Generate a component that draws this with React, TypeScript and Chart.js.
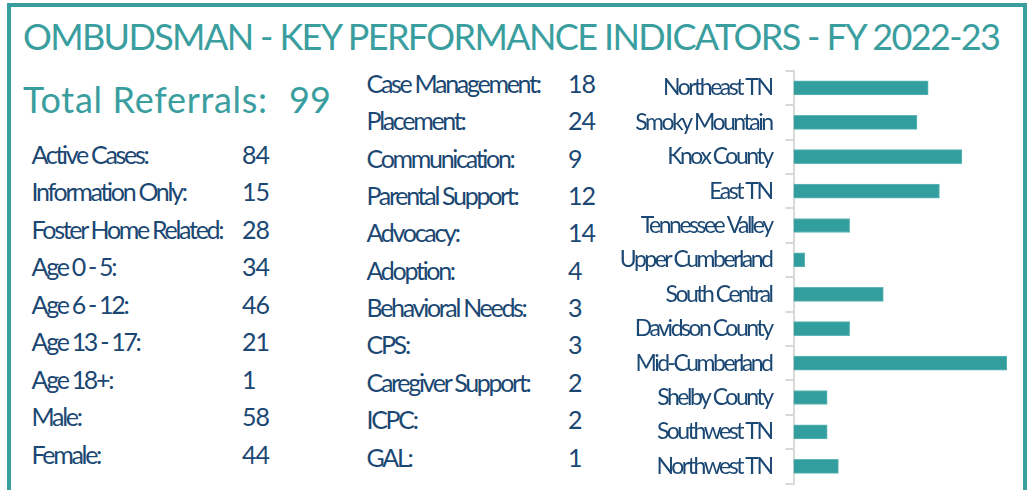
import React, { useEffect, useRef } from "react";
import { Chart, registerables } from "chart.js";

Chart.register(...registerables);

const titleText = "OMBUDSMAN - KEY PERFORMANCE INDICATORS - FY 2022-23";
const totalLabel = "Total Referrals:";
const totalValue = 99;

const summaryLabels = [
  "Active Cases:",
  "Information Only:",
  "Foster Home Related:",
  "Age 0 - 5:",
  "Age 6 - 12:",
  "Age 13 - 17:",
  "Age 18+:",
  "Male:",
  "Female:",
];
const summaryValues = [84, 15, 28, 34, 46, 21, 1, 58, 44];

const issueLabels = [
  "Case Management:",
  "Placement:",
  "Communication:",
  "Parental Support:",
  "Advocacy:",
  "Adoption:",
  "Behavioral Needs:",
  "CPS:",
  "Caregiver Support:",
  "ICPC:",
  "GAL:",
];
const issueValues = [18, 24, 9, 12, 14, 4, 3, 3, 2, 2, 1];

const regionLabels = [
  "Northeast TN",
  "Smoky Mountain",
  "Knox County",
  "East TN",
  "Tennessee Valley",
  "Upper Cumberland",
  "South Central",
  "Davidson County",
  "Mid-Cumberland",
  "Shelby County",
  "Southwest TN",
  "Northwest TN",
];
const regionValues = [12, 11, 15, 13, 5, 1, 8, 5, 19, 3, 3, 4];

const TEAL = "#3a9e9f";
const BAR = "#339e9e";
const NAVY = "#1b4773";
const FONT = "Lato, 'Open Sans', sans-serif";

function RegionChart() {
  const ref = useRef<HTMLCanvasElement | null>(null);
  useEffect(() => {
    if (!ref.current) return;
    const spacingPlugin = {
      id: "spacing",
      beforeUpdate(chart: any) {
        chart.ctx.letterSpacing = "-2.5px";
      },
      beforeDraw(chart: any) {
        chart.ctx.letterSpacing = "-2.5px";
      },
    };
    const chart = new Chart(ref.current, {
      type: "bar",
      data: {
        labels: regionLabels,
        datasets: [
          {
            data: regionValues,
            backgroundColor: BAR,
            borderColor: "#5fb6b6",
            borderWidth: 1,
            barThickness: 14,
          },
        ],
      },
      options: {
        indexAxis: "y",
        animation: false,
        responsive: false,
        maintainAspectRatio: false,
        layout: { padding: { top: 10.7, bottom: 6.5, left: 0, right: 0 } },
        plugins: { legend: { display: false }, tooltip: { enabled: false } },
        scales: {
          x: { display: false, min: 0, max: 20 },
          y: {
            afterFit(scale: any) {
              scale.width = 193.5;
              scale.paddingTop = 0;
              scale.paddingBottom = 0;
            },
            border: { display: true, color: "#d9d9d9", width: 2 },
            grid: {
              display: true,
              drawOnChartArea: false,
              drawTicks: true,
              tickLength: 8,
              color: "#d9d9d9",
              lineWidth: 2,
              offset: true,
            },
            ticks: {
              color: NAVY,
              padding: 14,
              font: { family: FONT, size: 23 },
            },
          },
        },
      },
      plugins: [spacingPlugin],
    } as any);
    return () => chart.destroy();
  }, []);
  return (
    <canvas
      ref={ref}
      width={418}
      height={430}
      style={{ position: "absolute", left: 600, top: 60, width: 418, height: 430 }}
    />
  );
}

export default function App() {
  const rowStyle: React.CSSProperties = { letterSpacing: "-2.3px" };
  return (
    <div
      style={{
        position: "fixed",
        left: 0,
        top: 0,
        width: 1028,
        height: 490,
        background: "#ffffff",
        overflow: "hidden",
      }}
    >
      <div
        style={{
          position: "absolute",
          left: 7,
          top: 3,
          width: 1020,
          height: 520,
          border: `4px solid ${TEAL}`,
          boxSizing: "border-box",
        }}
      />
      <svg
        width={1028}
        height={490}
        style={{ position: "absolute", left: 0, top: 0, fontFamily: FONT }}
      >
        <text x={23} y={49.5} fontSize={36} fill={TEAL} textLength={978} lengthAdjust="spacing">
          {titleText}
        </text>
        <text x={23} y={113} fontSize={36} fill={TEAL} textLength={244} lengthAdjust="spacing">
          {totalLabel}
        </text>
        <text x={289} y={113} fontSize={36} fill={TEAL}>
          {String(totalValue)}
        </text>
        {summaryLabels.map((l, i) => (
          <g key={"s" + i}>
            <text x={31.5} y={163.5 + 37.5 * i} fontSize={25} fill={NAVY} style={rowStyle}>
              {l}
            </text>
            <text x={242} y={163.5 + 37.5 * i} fontSize={25} fill={NAVY} style={{ letterSpacing: "-1px" }}>
              {String(summaryValues[i])}
            </text>
          </g>
        ))}
        {issueLabels.map((l, i) => (
          <g key={"m" + i}>
            <text x={366.5} y={93 + 37.35 * i} fontSize={25} fill={NAVY} style={rowStyle}>
              {l}
            </text>
            <text x={568} y={93 + 37.35 * i} fontSize={25} fill={NAVY} style={{ letterSpacing: "-1px" }}>
              {String(issueValues[i])}
            </text>
          </g>
        ))}
      </svg>
      <RegionChart />
    </div>
  );
}
